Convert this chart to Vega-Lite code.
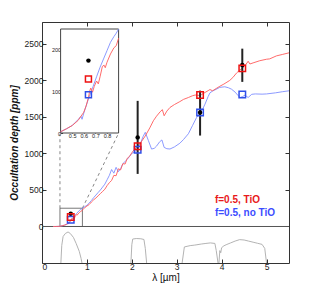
{
  "$schema": "https://vega.github.io/schema/vega-lite/v6.json",
  "width": 247,
  "height": 241,
  "autosize": {"type": "none"},
  "padding": {"left": 42, "top": 22, "right": 30, "bottom": 33},
  "background": "white",
  "config": {
    "view": {"stroke": "#333", "strokeWidth": 1},
    "axis": {"grid": false, "domain": false, "labelFont": "Liberation Sans", "titleFont": "Liberation Sans", "labelColor": "#222", "titleColor": "#111", "tickColor": "#333", "labelFontSize": 8.5}
  },
  "datasets": {
    "models": [
      {"lam":0.25,"d":0,"m":"TiO"},{"lam":0.3,"d":0,"m":"TiO"},{"lam":0.35,"d":1,"m":"TiO"},{"lam":0.4,"d":3,"m":"TiO"},{"lam":0.45,"d":10,"m":"TiO"},{"lam":0.5,"d":18,"m":"TiO"},{"lam":0.55,"d":30,"m":"TiO"},{"lam":0.6,"d":50,"m":"TiO"},{"lam":0.62,"d":65,"m":"TiO"},{"lam":0.64,"d":85,"m":"TiO"},{"lam":0.65,"d":100,"m":"TiO"},{"lam":0.66,"d":108,"m":"TiO"},{"lam":0.675,"d":98,"m":"TiO"},{"lam":0.69,"d":112,"m":"TiO"},{"lam":0.71,"d":125,"m":"TiO"},{"lam":0.725,"d":118,"m":"TiO"},{"lam":0.74,"d":135,"m":"TiO"},{"lam":0.76,"d":160,"m":"TiO"},{"lam":0.775,"d":163,"m":"TiO"},{"lam":0.785,"d":157,"m":"TiO"},{"lam":0.8,"d":170,"m":"TiO"},{"lam":0.83,"d":190,"m":"TiO"},{"lam":0.86,"d":205,"m":"TiO"},{"lam":0.88,"d":210,"m":"TiO"},{"lam":0.9,"d":228,"m":"TiO"},
      {"lam":0.95,"d":255,"m":"TiO"},{"lam":1.0,"d":280,"m":"TiO"},{"lam":1.05,"d":300,"m":"TiO"},{"lam":1.1,"d":335,"m":"TiO"},{"lam":1.15,"d":365,"m":"TiO"},{"lam":1.2,"d":390,"m":"TiO"},{"lam":1.25,"d":420,"m":"TiO"},{"lam":1.3,"d":450,"m":"TiO"},{"lam":1.35,"d":480,"m":"TiO"},{"lam":1.4,"d":510,"m":"TiO"},{"lam":1.45,"d":560,"m":"TiO"},{"lam":1.5,"d":600,"m":"TiO"},{"lam":1.55,"d":630,"m":"TiO"},{"lam":1.6,"d":700,"m":"TiO"},{"lam":1.65,"d":695,"m":"TiO"},{"lam":1.7,"d":790,"m":"TiO"},{"lam":1.75,"d":775,"m":"TiO"},{"lam":1.8,"d":860,"m":"TiO"},{"lam":1.85,"d":855,"m":"TiO"},{"lam":1.9,"d":935,"m":"TiO"},{"lam":1.95,"d":960,"m":"TiO"},{"lam":2.0,"d":1010,"m":"TiO"},{"lam":2.05,"d":1050,"m":"TiO"},{"lam":2.1,"d":1080,"m":"TiO"},{"lam":2.13,"d":1095,"m":"TiO"},{"lam":2.2,"d":1150,"m":"TiO"},{"lam":2.3,"d":1240,"m":"TiO"},{"lam":2.4,"d":1350,"m":"TiO"},{"lam":2.48,"d":1448,"m":"TiO"},{"lam":2.55,"d":1510,"m":"TiO"},{"lam":2.63,"d":1570,"m":"TiO"},{"lam":2.68,"d":1600,"m":"TiO"},{"lam":2.72,"d":1516,"m":"TiO"},{"lam":2.78,"d":1580,"m":"TiO"},{"lam":2.85,"d":1630,"m":"TiO"},{"lam":2.95,"d":1670,"m":"TiO"},{"lam":3.07,"d":1710,"m":"TiO"},{"lam":3.15,"d":1740,"m":"TiO"},{"lam":3.26,"d":1766,"m":"TiO"},{"lam":3.35,"d":1790,"m":"TiO"},{"lam":3.41,"d":1800,"m":"TiO"},{"lam":3.5,"d":1795,"m":"TiO"},{"lam":3.55,"d":1805,"m":"TiO"},{"lam":3.63,"d":1835,"m":"TiO"},{"lam":3.7,"d":1860,"m":"TiO"},{"lam":3.74,"d":1875,"m":"TiO"},{"lam":3.8,"d":1858,"m":"TiO"},{"lam":3.88,"d":1890,"m":"TiO"},{"lam":3.96,"d":1920,"m":"TiO"},{"lam":4.05,"d":1950,"m":"TiO"},{"lam":4.18,"d":2000,"m":"TiO"},{"lam":4.25,"d":2040,"m":"TiO"},{"lam":4.33,"d":2100,"m":"TiO"},{"lam":4.4,"d":2140,"m":"TiO"},{"lam":4.46,"d":2165,"m":"TiO"},{"lam":4.53,"d":2210,"m":"TiO"},{"lam":4.59,"d":2262,"m":"TiO"},{"lam":4.63,"d":2225,"m":"TiO"},{"lam":4.7,"d":2240,"m":"TiO"},{"lam":4.85,"d":2270,"m":"TiO"},{"lam":5.0,"d":2290,"m":"TiO"},{"lam":5.07,"d":2295,"m":"TiO"},{"lam":5.22,"d":2336,"m":"TiO"},{"lam":5.35,"d":2355,"m":"TiO"},{"lam":5.5,"d":2378,"m":"TiO"},
      {"lam":0.25,"d":0,"m":"noTiO"},{"lam":0.3,"d":0,"m":"noTiO"},{"lam":0.35,"d":1,"m":"noTiO"},{"lam":0.4,"d":3,"m":"noTiO"},{"lam":0.45,"d":10,"m":"noTiO"},{"lam":0.5,"d":18,"m":"noTiO"},{"lam":0.55,"d":32,"m":"noTiO"},{"lam":0.575,"d":40,"m":"noTiO"},{"lam":0.585,"d":33,"m":"noTiO"},{"lam":0.6,"d":48,"m":"noTiO"},{"lam":0.62,"d":65,"m":"noTiO"},{"lam":0.64,"d":82,"m":"noTiO"},{"lam":0.66,"d":97,"m":"noTiO"},{"lam":0.68,"d":112,"m":"noTiO"},{"lam":0.71,"d":135,"m":"noTiO"},{"lam":0.74,"d":158,"m":"noTiO"},{"lam":0.77,"d":178,"m":"noTiO"},{"lam":0.8,"d":198,"m":"noTiO"},{"lam":0.83,"d":218,"m":"noTiO"},{"lam":0.86,"d":232,"m":"noTiO"},{"lam":0.88,"d":240,"m":"noTiO"},{"lam":0.9,"d":250,"m":"noTiO"},
      {"lam":0.95,"d":270,"m":"noTiO"},{"lam":1.0,"d":290,"m":"noTiO"},{"lam":1.05,"d":320,"m":"noTiO"},{"lam":1.1,"d":355,"m":"noTiO"},{"lam":1.15,"d":395,"m":"noTiO"},{"lam":1.2,"d":430,"m":"noTiO"},{"lam":1.25,"d":465,"m":"noTiO"},{"lam":1.3,"d":500,"m":"noTiO"},{"lam":1.35,"d":540,"m":"noTiO"},{"lam":1.4,"d":580,"m":"noTiO"},{"lam":1.45,"d":640,"m":"noTiO"},{"lam":1.5,"d":700,"m":"noTiO"},{"lam":1.55,"d":780,"m":"noTiO"},{"lam":1.6,"d":730,"m":"noTiO"},{"lam":1.65,"d":810,"m":"noTiO"},{"lam":1.7,"d":750,"m":"noTiO"},{"lam":1.75,"d":790,"m":"noTiO"},{"lam":1.8,"d":860,"m":"noTiO"},{"lam":1.85,"d":890,"m":"noTiO"},{"lam":1.9,"d":920,"m":"noTiO"},{"lam":1.95,"d":960,"m":"noTiO"},{"lam":2.0,"d":1000,"m":"noTiO"},{"lam":2.05,"d":1020,"m":"noTiO"},{"lam":2.1,"d":1040,"m":"noTiO"},{"lam":2.15,"d":1080,"m":"noTiO"},{"lam":2.2,"d":1150,"m":"noTiO"},{"lam":2.25,"d":1230,"m":"noTiO"},{"lam":2.3,"d":1290,"m":"noTiO"},{"lam":2.37,"d":1175,"m":"noTiO"},{"lam":2.44,"d":1060,"m":"noTiO"},{"lam":2.5,"d":1070,"m":"noTiO"},{"lam":2.55,"d":1100,"m":"noTiO"},{"lam":2.62,"d":1160,"m":"noTiO"},{"lam":2.67,"d":1185,"m":"noTiO"},{"lam":2.72,"d":1083,"m":"noTiO"},{"lam":2.78,"d":1065,"m":"noTiO"},{"lam":2.85,"d":1061,"m":"noTiO"},{"lam":2.95,"d":1090,"m":"noTiO"},{"lam":3.07,"d":1140,"m":"noTiO"},{"lam":3.15,"d":1190,"m":"noTiO"},{"lam":3.26,"d":1270,"m":"noTiO"},{"lam":3.35,"d":1380,"m":"noTiO"},{"lam":3.44,"d":1490,"m":"noTiO"},{"lam":3.52,"d":1560,"m":"noTiO"},{"lam":3.58,"d":1610,"m":"noTiO"},{"lam":3.63,"d":1676,"m":"noTiO"},{"lam":3.7,"d":1780,"m":"noTiO"},{"lam":3.74,"d":1830,"m":"noTiO"},{"lam":3.8,"d":1855,"m":"noTiO"},{"lam":3.85,"d":1870,"m":"noTiO"},{"lam":3.96,"d":1905,"m":"noTiO"},{"lam":4.07,"d":1913,"m":"noTiO"},{"lam":4.15,"d":1900,"m":"noTiO"},{"lam":4.22,"d":1880,"m":"noTiO"},{"lam":4.3,"d":1840,"m":"noTiO"},{"lam":4.37,"d":1790,"m":"noTiO"},{"lam":4.41,"d":1766,"m":"noTiO"},{"lam":4.47,"d":1780,"m":"noTiO"},{"lam":4.52,"d":1799,"m":"noTiO"},{"lam":4.59,"d":1766,"m":"noTiO"},{"lam":4.67,"d":1810,"m":"noTiO"},{"lam":4.75,"d":1815,"m":"noTiO"},{"lam":4.9,"d":1812,"m":"noTiO"},{"lam":5.0,"d":1815,"m":"noTiO"},{"lam":5.2,"d":1830,"m":"noTiO"},{"lam":5.35,"d":1845,"m":"noTiO"},{"lam":5.5,"d":1858,"m":"noTiO"}
    ],
    "filters": [
      {"lam":0.42,"t":-500,"b":"a"},{"lam":0.44,"t":-260,"b":"a"},{"lam":0.47,"t":-137,"b":"a"},{"lam":0.52,"t":-96,"b":"a"},{"lam":0.58,"t":-75,"b":"a"},{"lam":0.63,"t":-96,"b":"a"},{"lam":0.7,"t":-150,"b":"a"},{"lam":0.76,"t":-232,"b":"a"},{"lam":0.83,"t":-341,"b":"a"},{"lam":0.87,"t":-437,"b":"a"},{"lam":0.89,"t":-500,"b":"a"},
      {"lam":1.98,"t":-500,"b":"k"},{"lam":2.0,"t":-250,"b":"k"},{"lam":2.02,"t":-172,"b":"k"},{"lam":2.1,"t":-165,"b":"k"},{"lam":2.2,"t":-168,"b":"k"},{"lam":2.27,"t":-178,"b":"k"},{"lam":2.3,"t":-300,"b":"k"},{"lam":2.33,"t":-500,"b":"k"},
      {"lam":3.12,"t":-500,"b":"c"},{"lam":3.17,"t":-280,"b":"c"},{"lam":3.3,"t":-262,"b":"c"},{"lam":3.4,"t":-255,"b":"c"},{"lam":3.45,"t":-250,"b":"c"},{"lam":3.55,"t":-240,"b":"c"},{"lam":3.65,"t":-232,"b":"c"},{"lam":3.75,"t":-225,"b":"c"},{"lam":3.85,"t":-232,"b":"c"},{"lam":3.88,"t":-330,"b":"c"},{"lam":3.92,"t":-500,"b":"c"},
      {"lam":3.94,"t":-500,"b":"d"},{"lam":3.96,"t":-330,"b":"d"},{"lam":3.98,"t":-360,"b":"d"},{"lam":4.0,"t":-290,"b":"d"},{"lam":4.05,"t":-265,"b":"d"},{"lam":4.1,"t":-250,"b":"d"},{"lam":4.2,"t":-225,"b":"d"},{"lam":4.3,"t":-200,"b":"d"},{"lam":4.4,"t":-180,"b":"d"},{"lam":4.5,"t":-185,"b":"d"},{"lam":4.6,"t":-200,"b":"d"},{"lam":4.7,"t":-215,"b":"d"},{"lam":4.8,"t":-230,"b":"d"},{"lam":4.9,"t":-245,"b":"d"},{"lam":4.96,"t":-300,"b":"d"},{"lam":5.0,"t":-500,"b":"d"}
    ],
    "obs": [
      {"lam":0.64,"d":174,"lo":174,"hi":174},
      {"lam":2.13,"d":1220,"lo":720,"hi":1720},
      {"lam":3.52,"d":1560,"lo":1245,"hi":1860},
      {"lam":4.46,"d":2210,"lo":1980,"hi":2435}
    ],
    "bandmodels": [
      {"lam":0.64,"d":92,"m":"noTiO"},{"lam":2.13,"d":1050,"m":"noTiO"},{"lam":3.52,"d":1560,"m":"noTiO"},{"lam":4.46,"d":1807,"m":"noTiO"},
      {"lam":0.64,"d":130,"m":"TiO"},{"lam":2.13,"d":1100,"m":"TiO"},{"lam":3.52,"d":1800,"m":"TiO"},{"lam":4.46,"d":2165,"m":"TiO"}
    ],
    "zoombox": [{"x0":0.4,"x1":0.9,"y0":0,"y1":250}],
    "connectors": [
      {"xa":0.4,"ya":250,"xb":0.4,"yb":1270},
      {"xa":0.9,"ya":250,"xb":1.70,"yb":1270}
    ],
    "legend": [
      {"lam":3.85,"d":369,"label":"f=0.5, TiO","m":"TiO"},
      {"lam":3.85,"d":178,"label":"f=0.5, no TiO","m":"noTiO"}
    ]
  },
  "resolve": {"scale": {"x": "independent", "y": "independent"}},
  "layer": [
    {
      "encoding": {
        "x": {"type": "quantitative", "scale": {"domain": [0, 5.5], "nice": false, "zero": false},
              "axis": {"orient": "bottom", "title": "λ [µm]", "values": [0,1,2,3,4,5], "format": "d", "tickSize": -4, "labelPadding": 3, "titlePadding": 2, "titleFontSize": 10, "titleFontWeight": "normal"}},
        "y": {"type": "quantitative", "scale": {"domain": [-500, 2800], "nice": false, "zero": false},
              "axis": {"orient": "left", "title": "Occultation depth [ppm]", "values": [0,500,1000,1500,2000,2500], "format": "d", "tickSize": -4, "labelPadding": 3, "titlePadding": 5, "titleFontSize": 10, "titleFontWeight": "bold", "titleFontStyle": "italic"}}
      },
      "layer": [
        {"data": {"values": [{"z": 0}]}, "mark": {"type": "rule", "color": "#555", "strokeWidth": 1}, "encoding": {"y": {"field": "z"}}},
        {"data": {"name": "zoombox"}, "mark": {"type": "rect", "fill": null, "fillOpacity": 0, "stroke": "#555", "strokeWidth": 0.8},
         "encoding": {"x": {"field": "x0"}, "x2": {"field": "x1"}, "y": {"field": "y0"}, "y2": {"field": "y1"}}},
        {"data": {"name": "connectors"}, "mark": {"type": "rule", "color": "#666", "strokeWidth": 0.8, "strokeDash": [3, 3]},
         "encoding": {"x": {"field": "xa"}, "x2": {"field": "xb"}, "y": {"field": "ya"}, "y2": {"field": "yb"}}},
        {"data": {"name": "models"}, "transform": [{"filter": "datum.m === 'noTiO'"}], "mark": {"type": "line", "color": "#7f8fff", "strokeWidth": 0.9},
         "encoding": {"x": {"field": "lam"}, "y": {"field": "d"}}},
        {"data": {"name": "models"}, "transform": [{"filter": "datum.m === 'TiO'"}], "mark": {"type": "line", "color": "#ff5a5a", "strokeWidth": 0.9},
         "encoding": {"x": {"field": "lam"}, "y": {"field": "d"}}},
        {"data": {"name": "obs"}, "mark": {"type": "rule", "color": "#222", "strokeWidth": 2},
         "encoding": {"x": {"field": "lam"}, "y": {"field": "lo"}, "y2": {"field": "hi"}}},
        {"data": {"name": "obs"}, "mark": {"type": "point", "shape": "circle", "filled": true, "color": "#000", "size": 20, "opacity": 1},
         "encoding": {"x": {"field": "lam"}, "y": {"field": "d"}}},
        {"data": {"name": "bandmodels"}, "transform": [{"filter": "datum.m === 'noTiO'"}], "mark": {"type": "point", "shape": "square", "filled": false, "color": "#2f4fe8", "size": 42, "strokeWidth": 1.5, "opacity": 1},
         "encoding": {"x": {"field": "lam"}, "y": {"field": "d"}}},
        {"data": {"name": "bandmodels"}, "transform": [{"filter": "datum.m === 'TiO'"}], "mark": {"type": "point", "shape": "square", "filled": false, "color": "#ee1111", "size": 42, "strokeWidth": 1.5, "opacity": 1},
         "encoding": {"x": {"field": "lam"}, "y": {"field": "d"}}},
        {"data": {"name": "legend"}, "transform": [{"filter": "datum.m === 'TiO'"}], "mark": {"type": "text", "align": "left", "baseline": "middle", "font": "Liberation Sans", "fontWeight": "bold", "fontSize": 10, "color": "#e8191b"},
         "encoding": {"x": {"field": "lam"}, "y": {"field": "d"}, "text": {"field": "label"}}},
        {"data": {"name": "legend"}, "transform": [{"filter": "datum.m === 'noTiO'"}], "mark": {"type": "text", "align": "left", "baseline": "middle", "font": "Liberation Sans", "fontWeight": "bold", "fontSize": 10, "color": "#3b4cff"},
         "encoding": {"x": {"field": "lam"}, "y": {"field": "d"}, "text": {"field": "label"}}}
      ]
    },
    {
      "data": {"name": "filters"},
      "mark": {"type": "line", "color": "#aaa", "strokeWidth": 0.9},
      "encoding": {
        "x": {"field": "lam", "type": "quantitative", "scale": {"domain": [0, 5.5], "nice": false, "zero": false},
              "axis": {"orient": "top", "title": null, "labels": false, "values": [0,1,2,3,4,5], "tickSize": -4}},
        "y": {"field": "t", "type": "quantitative", "scale": {"domain": [-500, 2800], "nice": false, "zero": false},
              "axis": {"orient": "right", "title": null, "labels": false, "values": [0,500,1000,1500,2000,2500], "tickSize": -4}},
        "detail": {"field": "b"}
      }
    },
    {
      "encoding": {
        "x": {"type": "quantitative", "scale": {"domain": [0.4, 0.9], "range": [18.6, 76.6], "nice": false, "zero": false},
              "axis": {"orient": "bottom", "offset": -130, "title": null, "values": [0.5,0.6,0.7,0.8], "tickSize": -2, "labelFontSize": 5.5, "labelPadding": 2}},
        "y": {"type": "quantitative", "scale": {"domain": [0, 250], "range": [111, 7], "nice": false, "zero": false},
              "axis": {"orient": "left", "offset": -18.6, "title": null, "values": [0,100,200], "format": "d", "tickSize": -2, "labelFontSize": 5.5, "labelPadding": 2}}
      },
      "layer": [
        {"data": {"name": "zoombox"}, "mark": {"type": "rect", "fill": "white", "stroke": "#444", "strokeWidth": 1},
         "encoding": {"x": {"field": "x0"}, "x2": {"field": "x1"}, "y": {"field": "y0"}, "y2": {"field": "y1"}}},
        {"data": {"name": "models"}, "transform": [{"filter": "datum.m === 'noTiO' && datum.lam >= 0.4 && datum.lam <= 0.9"}], "mark": {"type": "line", "color": "#7f8fff", "strokeWidth": 0.9},
         "encoding": {"x": {"field": "lam"}, "y": {"field": "d"}}},
        {"data": {"name": "models"}, "transform": [{"filter": "datum.m === 'TiO' && datum.lam >= 0.4 && datum.lam <= 0.9"}], "mark": {"type": "line", "color": "#ff5a5a", "strokeWidth": 0.9},
         "encoding": {"x": {"field": "lam"}, "y": {"field": "d"}}},
        {"data": {"name": "obs"}, "transform": [{"filter": "datum.lam < 1"}], "mark": {"type": "point", "shape": "circle", "filled": true, "color": "#000", "size": 20, "opacity": 1},
         "encoding": {"x": {"field": "lam"}, "y": {"field": "d"}}},
        {"data": {"name": "bandmodels"}, "transform": [{"filter": "datum.m === 'noTiO' && datum.lam < 1"}], "mark": {"type": "point", "shape": "square", "filled": false, "color": "#2f4fe8", "size": 36, "strokeWidth": 1.5, "opacity": 1},
         "encoding": {"x": {"field": "lam"}, "y": {"field": "d"}}},
        {"data": {"name": "bandmodels"}, "transform": [{"filter": "datum.m === 'TiO' && datum.lam < 1"}], "mark": {"type": "point", "shape": "square", "filled": false, "color": "#ee1111", "size": 36, "strokeWidth": 1.5, "opacity": 1},
         "encoding": {"x": {"field": "lam"}, "y": {"field": "d"}}}
      ]
    }
  ]
}
